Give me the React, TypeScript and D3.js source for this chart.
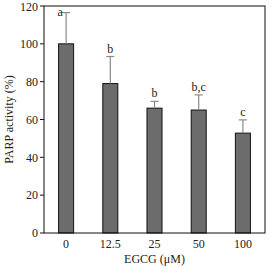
import React from "react";
import * as d3 from "d3";

const doses = ["0", "12.5", "25", "50", "100"];
const activity = [100, 79, 66, 65, 52.8];
const errors = [16.5, 14.3, 3.6, 8, 7];
const letters = ["a", "b", "b", "b,c", "c"];
const yTicks = [0, 20, 40, 60, 80, 100, 120];

export default function App() {
  const width = 272;
  const height = 267;
  const m = { left: 44, right: 7, top: 6, bottom: 34 };
  const font = "'Liberation Serif', 'Times New Roman', serif";

  const x = d3
    .scaleBand()
    .domain(doses)
    .range([m.left, width - m.right])
    .paddingInner(0.66)
    .paddingOuter(0.33);
  const y = d3
    .scaleLinear()
    .domain([0, 120])
    .range([height - m.bottom, m.top]);

  const bw = x.bandwidth();

  return (
    <svg
      width={width}
      height={height}
      style={{ position: "absolute", left: 0, top: 0, background: "#fff" }}
      fontFamily={font}
    >
      {/* bars */}
      {doses.map((d, i) => (
        <rect
          key={"b" + d}
          x={x(d)}
          y={y(activity[i])}
          width={bw}
          height={y(0) - y(activity[i])}
          fill="#6c6c6c"
          stroke="#111"
          strokeWidth={1}
        />
      ))}
      {/* error bars */}
      {doses.map((d, i) => {
        const cx = (x(d) as number) + bw / 2;
        const top = y(activity[i] + errors[i]);
        return (
          <g key={"e" + d} stroke="#8a8a8a" strokeWidth={1.2}>
            <line x1={cx} x2={cx} y1={y(activity[i])} y2={top} />
            <line x1={cx - 4} x2={cx + 4} y1={top} y2={top} />
          </g>
        );
      })}
      {/* significance letters */}
      {doses.map((d, i) => {
        const cx = (x(d) as number) + bw / 2;
        let ly = y(activity[i] + errors[i]) - 4;
        let lx = cx;
        if (ly < m.top + 11) {
          ly = m.top + 10;
          lx = cx - 6;
        }
        return (
          <text
            key={"l" + d}
            x={lx}
            y={ly}
            textAnchor="middle"
            fontSize={12}
            fill="#222"
          >
            {letters[i]}
          </text>
        );
      })}
      {/* frame */}
      <rect
        x={m.left}
        y={m.top}
        width={width - m.left - m.right}
        height={height - m.top - m.bottom}
        fill="none"
        stroke="#111"
        strokeWidth={1}
      />
      {/* y ticks */}
      {yTicks.map((t) => (
        <g key={"t" + t}>
          <line x1={m.left - 4} x2={m.left} y1={y(t)} y2={y(t)} stroke="#111" />
          <text
            x={m.left - 6}
            y={t === 120 ? y(t) + 1 : y(t)}
            dy="0.35em"
            textAnchor="end"
            fontSize={12}
            fill="#222"
          >
            {t}
          </text>
        </g>
      ))}
      {/* x tick labels */}
      {doses.map((d) => (
        <text
          key={"x" + d}
          x={(x(d) as number) + bw / 2}
          y={height - m.bottom + 15}
          textAnchor="middle"
          fontSize={12}
          fill="#222"
        >
          {d}
        </text>
      ))}
      <text
        x={(m.left + width - m.right) / 2}
        y={height - 4}
        textAnchor="middle"
        fontSize={12}
        fill="#222"
      >
        EGCG (μM)
      </text>
      <text
        transform={`translate(13, ${(m.top + height - m.bottom) / 2}) rotate(-90)`}
        textAnchor="middle"
        fontSize={12}
        fill="#222"
      >
        PARP activity (%)
      </text>
    </svg>
  );
}
